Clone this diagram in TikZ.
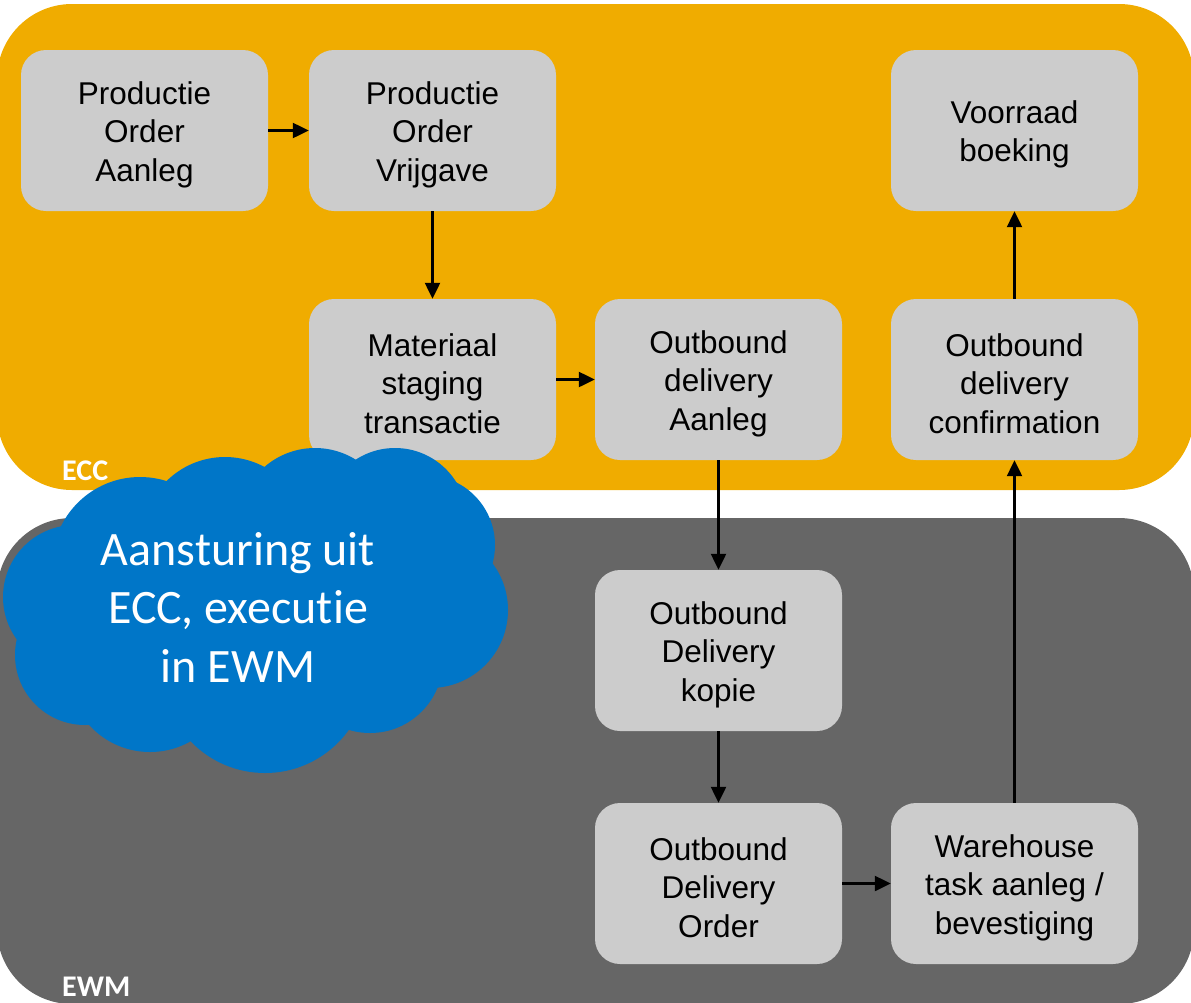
\documentclass[tikz,border=0pt]{standalone}
\usepackage{fontspec}
\setmainfont{Liberation Sans}
\newfontfamily\calibri[Ligatures=NoCommon]{Carlito}
\usetikzlibrary{arrows.meta}
\definecolor{eccorange}{RGB}{240,172,0}
\definecolor{ewmgrey}{RGB}{102,102,102}
\definecolor{boxgrey}{RGB}{204,204,204}
\definecolor{cloudblue}{RGB}{0,118,200}
\newcommand{\tpad}{\rule{0pt}{31pt}}
\tikzset{
  procbox/.style={draw=none,fill=boxgrey,rounded corners=25pt,minimum width=247pt,minimum height=161pt,
    align=center,inner sep=0pt,font=\fontsize{31.5}{38.5}\selectfont,text=black},
  flow/.style={line width=2.3pt,-{Triangle[length=16pt,width=15pt]}},
  panellabel/.style={text=white,font=\calibri\bfseries\fontsize{30}{36}\selectfont,inner sep=0pt,anchor=base west}
}
\begin{document}
\begin{tikzpicture}[x=1pt,y=-1pt]
\useasboundingbox (0,0) rectangle (1191,1002);
\clip (0,0) rectangle (1191,1002);
% panels
\fill[eccorange,rounded corners=75pt] (-3,4) rectangle (1194,490);
\fill[ewmgrey,rounded corners=75pt] (-3,518) rectangle (1194,1004);
% boxes
\node[procbox] (b1) at (144.5,130.5) {\tpad Productie\\Order\\Aanleg};
\node[procbox] (b2) at (432.5,130.5) {\tpad Productie\\Order\\Vrijgave};
\node[procbox] (b3) at (432.5,379.5) {\tpad Materiaal\\staging\\transactie};
\node[procbox] (b4) at (718.5,379.5) {\tpad Outbound\\delivery\\Aanleg};
\node[procbox] (b5) at (1014.5,379.5) {\tpad Outbound\\delivery\\confirmation};
\node[procbox] (b6) at (1014.5,130.5) {\tpad Voorraad\\boeking};
\node[procbox] (b7) at (718.5,650.5) {\tpad Outbound\\Delivery\\kopie};
\node[procbox] (b8) at (718.5,883.5) {\tpad Outbound\\Delivery\\Order};
\node[procbox] (b9) at (1014.5,883.5) {\tpad Warehouse\\task aanleg /\\bevestiging};
% connectors
\draw[flow] (b1.east) -- (b2.west);
\draw[flow] (b2.south) -- (b3.north);
\draw[flow] (b3.east) -- (b4.west);
\draw[flow] (b4.south) -- (b7.north);
\draw[flow] (b7.south) -- (b8.north);
\draw[flow] (b8.east) -- (b9.west);
\draw[flow] (b9.north) -- (b5.south);
\draw[flow] (b5.north) -- (b6.south);
% cloud
\begin{scope}[cloudblue]
\fill (140,565) circle[radius=88];
\fill (225,540) circle[radius=83];
\fill (315,525) circle[radius=77];
\fill (395,520) circle[radius=72];
\fill (425,545) circle[radius=70];
\fill (430,610) circle[radius=78];
\fill (370,660) circle[radius=73];
\fill (265,670) circle[radius=103];
\fill (150,670) circle[radius=82];
\fill (85,655) circle[radius=70];
\fill (75,597) circle[radius=72];
\fill (255,610) ellipse[x radius=200,y radius=120];
\end{scope}
\node[text=white,align=center,inner sep=0pt,font=\calibri\fontsize{48}{58.5}\selectfont] (cloudtext) at (238,607) {Aansturing uit\\ECC, executie\\in EWM};
% labels
\node[panellabel] (ecc) at (62,480) {ECC};
\node[panellabel] (ewm) at (62,996) {EWM};
\end{tikzpicture}
\end{document}
